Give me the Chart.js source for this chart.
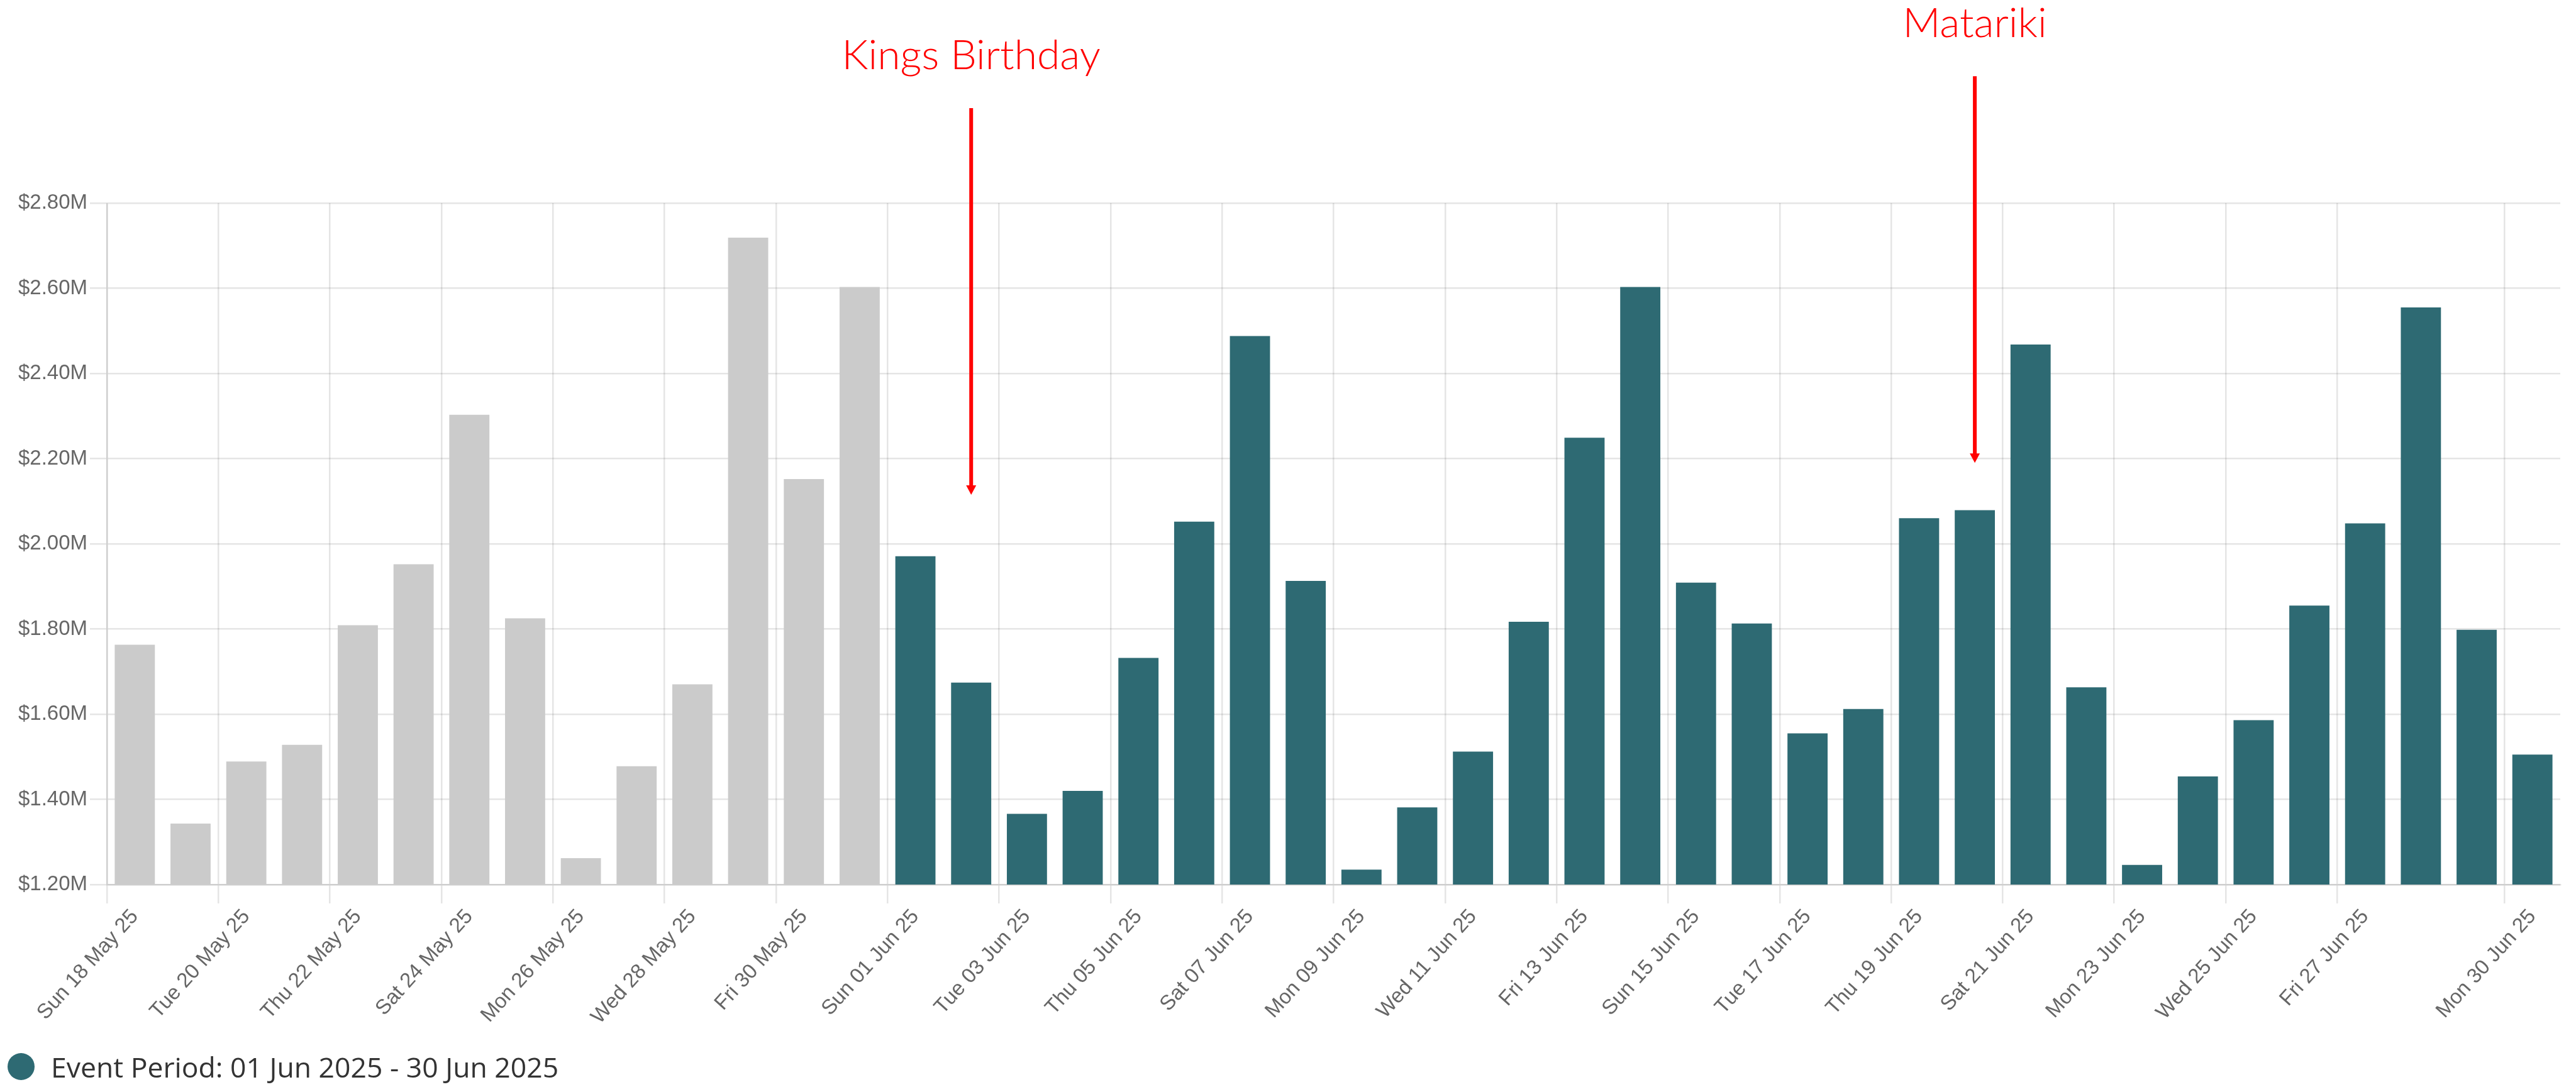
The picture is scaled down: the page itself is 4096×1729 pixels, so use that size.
<!DOCTYPE html>
<html>
<head>
<meta charset="utf-8">
<title>Daily sales</title>
<script src="https://cdn.jsdelivr.net/npm/chart.js@4.4.1/dist/chart.umd.min.js"></script>
<style>
    html, body { margin: 0; padding: 0; background: #fff; }
    .chart-wrap { position: relative; width: 4096px; height: 1729px; }
    .legend {
        position: absolute; left: 12px; top: 1666px;
        display: flex; align-items: center;
        font-family: 'Open Sans', sans-serif; font-size: 44.5px; color: #333;
    }
    .legend .dot { width: 43px; height: 43px; border-radius: 50%; margin-right: 26px; }
</style>
</head>
<body>
<div class="chart-wrap">
    <canvas id="salesChart"></canvas>
    <div class="legend" id="salesLegend"></div>
</div>
<script>
const categories = [
    'Sun 18 May 25', 'Mon 19 May 25', 'Tue 20 May 25', 'Wed 21 May 25', 'Thu 22 May 25',
    'Fri 23 May 25', 'Sat 24 May 25', 'Sun 25 May 25', 'Mon 26 May 25', 'Tue 27 May 25',
    'Wed 28 May 25', 'Thu 29 May 25', 'Fri 30 May 25', 'Sat 31 May 25',
    'Sun 01 Jun 25', 'Mon 02 Jun 25', 'Tue 03 Jun 25', 'Wed 04 Jun 25', 'Thu 05 Jun 25',
    'Fri 06 Jun 25', 'Sat 07 Jun 25', 'Sun 08 Jun 25', 'Mon 09 Jun 25', 'Tue 10 Jun 25',
    'Wed 11 Jun 25', 'Thu 12 Jun 25', 'Fri 13 Jun 25', 'Sat 14 Jun 25', 'Sun 15 Jun 25',
    'Mon 16 Jun 25', 'Tue 17 Jun 25', 'Wed 18 Jun 25', 'Thu 19 Jun 25', 'Fri 20 Jun 25',
    'Sat 21 Jun 25', 'Sun 22 Jun 25', 'Mon 23 Jun 25', 'Tue 24 Jun 25', 'Wed 25 Jun 25',
    'Thu 26 Jun 25', 'Fri 27 Jun 25', 'Sat 28 Jun 25', 'Sun 29 Jun 25', 'Mon 30 Jun 25',
];

// labels that get a tick + grid line on the x axis
const shownTicks = [
    'Sun 18 May 25', 'Tue 20 May 25', 'Thu 22 May 25', 'Sat 24 May 25', 'Mon 26 May 25',
    'Wed 28 May 25', 'Fri 30 May 25', 'Sun 01 Jun 25', 'Tue 03 Jun 25', 'Thu 05 Jun 25',
    'Sat 07 Jun 25', 'Mon 09 Jun 25', 'Wed 11 Jun 25', 'Fri 13 Jun 25', 'Sun 15 Jun 25',
    'Tue 17 Jun 25', 'Thu 19 Jun 25', 'Sat 21 Jun 25', 'Mon 23 Jun 25', 'Wed 25 Jun 25',
    'Fri 27 Jun 25', 'Mon 30 Jun 25',
];

// sales in $M
const priorValues = [
    1.763, 1.343, 1.489, 1.528, 1.809, 1.952, 2.303, 1.825, 1.262, 1.478, 1.670, 2.719, 2.152, 2.603,
];
const eventValues = [
    1.971, 1.674, 1.366, 1.420, 1.732, 2.052, 2.488, 1.913, 1.235, 1.381,
    1.512, 1.817, 2.249, 2.603, 1.909, 1.813, 1.555, 1.612, 2.060, 2.079,
    2.468, 1.663, 1.246, 1.454, 1.586, 1.855, 2.048, 2.555, 1.798, 1.505,
];

const yMin = 1.2;
const yMax = 2.8;
const yStep = 0.2;

const holidays = [
    { name: 'Kings Birthday', day: 'Mon 02 Jun 25', level: 2.115 },
    { name: 'Matariki', day: 'Fri 20 Jun 25', level: 2.19 },
];

const GRID = 'rgba(0, 0, 0, 0.1)';
const TEAL = '#2e6a73';
const GREY = '#cbcbcb';

const holidayArrows = {
    id: 'holidayArrows',
    afterDraw(chart) {
        const { ctx, scales } = chart;
        ctx.save();
        ctx.fillStyle = '#ff0000';
        ctx.strokeStyle = '#ff0000';
        holidays.forEach((h) => {
            const px = scales.x.getPixelForValue(categories.indexOf(h.day));
            const tip = scales.y.getPixelForValue(h.level);
            ctx.lineWidth = 6;
            ctx.beginPath();
            ctx.moveTo(px, tip - 615);
            ctx.lineTo(px, tip - 12);
            ctx.stroke();
            ctx.beginPath();
            ctx.moveTo(px - 8, tip - 15);
            ctx.lineTo(px + 8, tip - 15);
            ctx.lineTo(px, tip);
            ctx.closePath();
            ctx.fill();
            ctx.font = '300 66px Lato';
            ctx.textAlign = 'center';
            ctx.textBaseline = 'alphabetic';
            ctx.fillText(h.name, px, tip - 677);
        });
        ctx.restore();
    },
};

const buildChart = () => {
    const canvas = document.getElementById('salesChart');
    const gap = eventValues.map(() => null);
    const lead = priorValues.map(() => null);

    const chart = new Chart(canvas, {
        type: 'bar',
        data: {
            labels: categories,
            datasets: [
                {
                    label: 'Prior Period',
                    data: priorValues.concat(gap),
                    backgroundColor: GREY,
                    grouped: false,
                },
                {
                    label: 'Event Period: 01 Jun 2025 - 30 Jun 2025',
                    data: lead.concat(eventValues),
                    backgroundColor: TEAL,
                    grouped: false,
                },
            ],
        },
        options: {
            responsive: true,
            maintainAspectRatio: false,
            animation: false,
            layout: { padding: { top: 323, right: 25, left: 0, bottom: 0 } },
            plugins: {
                legend: { display: false },
                tooltip: { enabled: false },
            },
            scales: {
                x: {
                    ticks: {
                        autoSkip: false,
                        minRotation: 48,
                        maxRotation: 48,
                        padding: 2,
                        color: '#666',
                        font: { family: 'Liberation Sans', size: 33 },
                        callback: function (value) {
                            const label = this.getLabelForValue(value);
                            return shownTicks.includes(label) ? label : '';
                        },
                    },
                    grid: {
                        lineWidth: 2.5,
                        tickLength: 30,
                        color: (ctx) => (ctx.index !== undefined && shownTicks.includes(categories[ctx.index]) ? GRID : 'transparent'),
                    },
                    border: { color: GRID, width: 2.5 },
                    afterFit: (scale) => { scale.height = 322; },
                },
                y: {
                    min: yMin,
                    max: yMax,
                    ticks: {
                        stepSize: yStep,
                        padding: 4,
                        color: '#666',
                        font: { family: 'Liberation Sans', size: 33 },
                        callback: (v) => '$' + v.toFixed(2) + 'M',
                    },
                    grid: { color: GRID, lineWidth: 2.5, tickLength: 27 },
                    border: { color: GRID, width: 2.5 },
                    afterFit: (scale) => { scale.width = 170; },
                },
            },
        },
        plugins: [holidayArrows],
    });

    const eventSet = chart.data.datasets[1];
    document.getElementById('salesLegend').innerHTML =
        '<span class="dot" style="background:' + eventSet.backgroundColor + '"></span>' +
        '<span>' + eventSet.label + '</span>';
};

document.addEventListener('DOMContentLoaded', buildChart);
</script>
</body>
</html>
